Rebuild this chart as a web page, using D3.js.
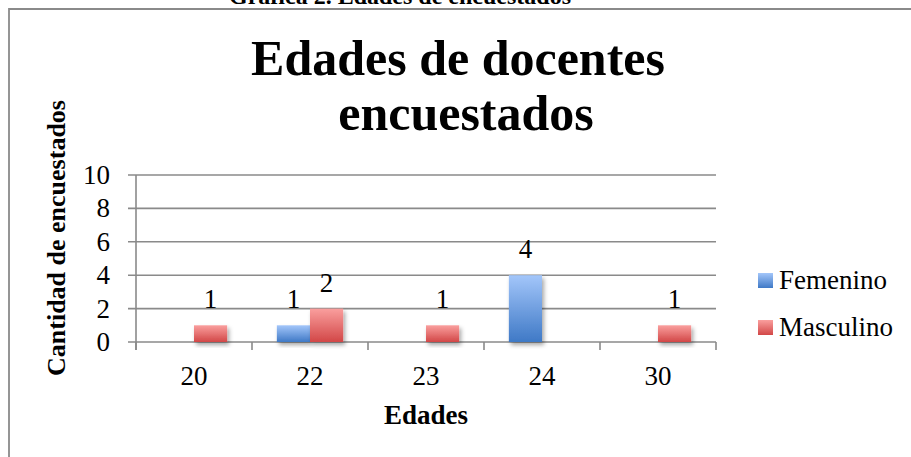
<!DOCTYPE html>
<html>
<head>
<meta charset="utf-8">
<script src="https://d3js.org/d3.v7.min.js"></script>
<style>
  body { margin: 0; background: #fff; }
  svg { display: block; }
</style>
</head>
<body>
<div id="chart"></div>
<script>
const ages = ['20', '22', '23', '24', '30'];
const femenino = [null, 1, null, 4, null];
const masculino = [1, 2, 1, null, 1];
const seriesNames = ['Femenino', 'Masculino'];
const yTicks = [0, 2, 4, 6, 8, 10];

const width = 911;
const height = 457;
const plot = { left: 136, right: 716, top: 175, bottom: 342 };
const serif = '"Liberation Serif", "Times New Roman", serif';
const gridColor = '#8a8a8a';

const svg = d3.select('#chart')
    .append('svg')
    .attr('width', width)
    .attr('height', height);

const defs = svg.append('defs');
const gradients = [
    { id: 'grad-fem', top: '#a3c6fa', bottom: '#3f79c6' },
    { id: 'grad-mas', top: '#fa9f9e', bottom: '#d24747' }
];
gradients.forEach(g => {
    const lg = defs.append('linearGradient')
        .attr('id', g.id)
        .attr('x1', 0).attr('y1', 0)
        .attr('x2', 0).attr('y2', 1);
    lg.append('stop').attr('offset', '0%').attr('stop-color', g.top);
    lg.append('stop').attr('offset', '100%').attr('stop-color', g.bottom);
});
const shadow = defs.append('filter')
    .attr('id', 'shadow')
    .attr('x', '-20%').attr('y', '-20%')
    .attr('width', '150%').attr('height', '150%');
shadow.append('feDropShadow')
    .attr('dx', 2).attr('dy', 3)
    .attr('stdDeviation', 2)
    .attr('flood-color', '#000')
    .attr('flood-opacity', 0.35);

// caption above the chart, mostly cut off by the page top
svg.append('text')
    .attr('x', 400)
    .attr('y', 4)
    .attr('text-anchor', 'middle')
    .attr('font-family', serif)
    .attr('font-weight', 'bold')
    .attr('font-size', 24)
    .text('Gráfica 2. Edades de encuestados');

// chart frame (runs off right and bottom)
svg.append('path')
    .attr('d', `M9,${height + 5}V9H${width + 5}`)
    .attr('fill', 'none')
    .attr('stroke', gridColor)
    .attr('stroke-width', 1.8);

const x = d3.scaleBand()
    .domain(ages)
    .range([plot.left, plot.right])
    .padding(0);

const groupWidth = x.bandwidth() / 1.75;
const x1 = d3.scaleBand()
    .domain(seriesNames)
    .range([(x.bandwidth() - groupWidth) / 2, (x.bandwidth() + groupWidth) / 2])
    .padding(0);

const y = d3.scaleLinear()
    .domain([0, 10])
    .range([plot.bottom, plot.top]);

// gridlines + y ticks
svg.append('g')
    .selectAll('line')
    .data(yTicks)
    .join('line')
    .attr('x1', plot.left - 8)
    .attr('x2', plot.right)
    .attr('y1', d => y(d))
    .attr('y2', d => y(d))
    .attr('stroke', gridColor)
    .attr('stroke-width', 1.6);

svg.append('g')
    .selectAll('text')
    .data(yTicks)
    .join('text')
    .attr('x', plot.left - 26)
    .attr('y', d => y(d) + 9)
    .attr('text-anchor', 'end')
    .attr('font-family', serif)
    .attr('font-size', 27)
    .attr('fill', '#000')
    .text(d => d);

// y axis line
svg.append('line')
    .attr('x1', plot.left).attr('x2', plot.left)
    .attr('y1', plot.top).attr('y2', plot.bottom + 8)
    .attr('stroke', gridColor)
    .attr('stroke-width', 1.6);

// category ticks
const catEdges = ages.map(a => x(a)).concat([plot.right]);
svg.append('g')
    .selectAll('line')
    .data(catEdges)
    .join('line')
    .attr('x1', d => d).attr('x2', d => d)
    .attr('y1', plot.bottom)
    .attr('y2', plot.bottom + 8)
    .attr('stroke', gridColor)
    .attr('stroke-width', 1.6);

svg.append('g')
    .selectAll('text')
    .data(ages)
    .join('text')
    .attr('x', d => x(d) + x.bandwidth() / 2)
    .attr('y', plot.bottom + 43)
    .attr('text-anchor', 'middle')
    .attr('font-family', serif)
    .attr('font-size', 27)
    .text(d => d);

// bars
const barData = [];
ages.forEach((age, i) => {
    if (femenino[i] != null) barData.push({ age, series: 'Femenino', value: femenino[i], fill: 'url(#grad-fem)' });
    if (masculino[i] != null) barData.push({ age, series: 'Masculino', value: masculino[i], fill: 'url(#grad-mas)' });
});

svg.append('g')
    .selectAll('rect')
    .data(barData)
    .join('rect')
    .attr('x', d => x(d.age) + x1(d.series))
    .attr('y', d => y(d.value))
    .attr('width', x1.bandwidth())
    .attr('height', d => y(0) - y(d.value))
    .attr('fill', d => d.fill)
    .attr('filter', 'url(#shadow)');

svg.append('g')
    .selectAll('text')
    .data(barData)
    .join('text')
    .attr('x', d => x(d.age) + x1(d.series) + x1.bandwidth() / 2)
    .attr('y', d => y(d.value) - 17)
    .attr('text-anchor', 'middle')
    .attr('font-family', serif)
    .attr('font-size', 27)
    .text(d => d.value);

// chart title
const title = svg.append('text')
    .attr('text-anchor', 'middle')
    .attr('font-family', serif)
    .attr('font-weight', 'bold')
    .attr('font-size', 50);
title.append('tspan').attr('x', 458).attr('y', 75).text('Edades de docentes');
title.append('tspan').attr('x', 466).attr('y', 130).text('encuestados');

// axis titles
svg.append('text')
    .attr('transform', `translate(65,${238}) rotate(-90)`)
    .attr('text-anchor', 'middle')
    .attr('font-family', serif)
    .attr('font-weight', 'bold')
    .attr('font-size', 26)
    .text('Cantidad de encuestados');

svg.append('text')
    .attr('x', (plot.left + plot.right) / 2)
    .attr('y', 424)
    .attr('text-anchor', 'middle')
    .attr('font-family', serif)
    .attr('font-weight', 'bold')
    .attr('font-size', 27)
    .text('Edades');

// legend
const legend = svg.append('g')
    .selectAll('g')
    .data(gradients)
    .join('g')
    .attr('transform', (d, i) => `translate(758,${273 + i * 47})`);

legend.append('rect')
    .attr('width', 15)
    .attr('height', 15)
    .attr('fill', d => `url(#${d.id})`);

legend.append('text')
    .attr('x', 21)
    .attr('y', 16)
    .attr('font-family', serif)
    .attr('font-size', 27)
    .text((d, i) => seriesNames[i]);
</script>
</body>
</html>
